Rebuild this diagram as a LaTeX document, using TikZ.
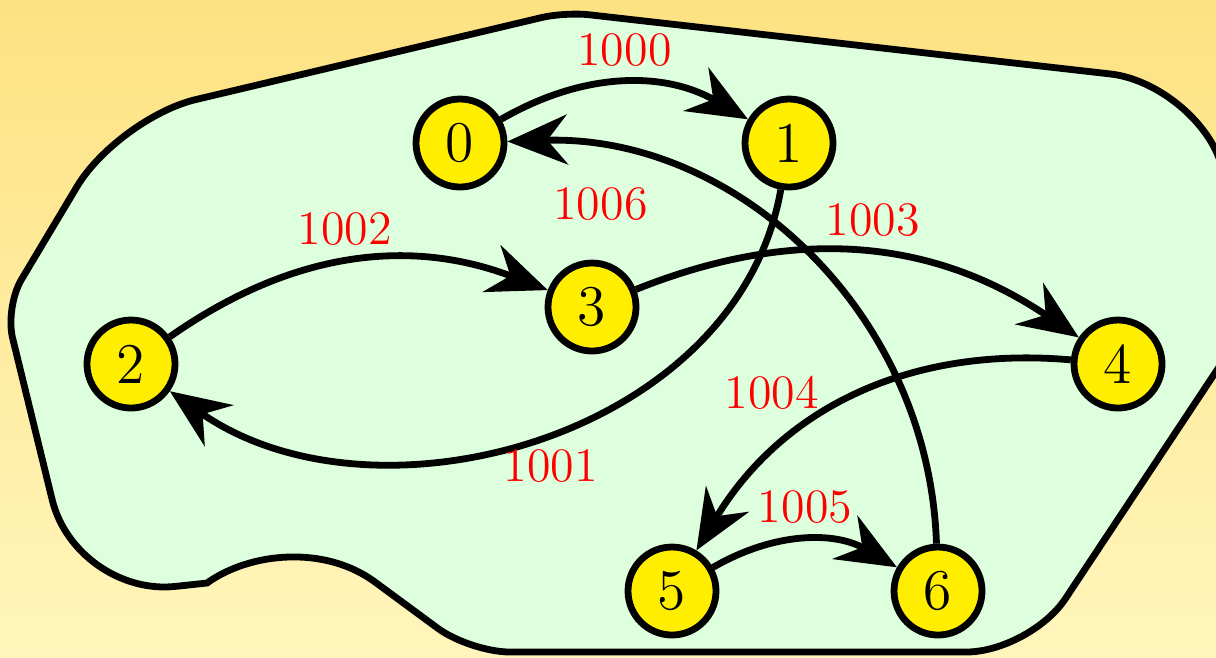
\documentclass[tikz,border=0pt]{standalone}
\usepackage{tikz}
\usetikzlibrary{arrows.meta, positioning, shapes.geometric}

\definecolor{bgtop}{RGB}{253,226,130}
\definecolor{bgbottom}{RGB}{255,245,188}
\definecolor{blobgreen}{RGB}{222,255,222}
\definecolor{nodeyellow}{RGB}{255,238,0}

\begin{document}
\begin{tikzpicture}[
	x=0.25pt, y=-0.25pt,
	vertex/.style = {circle, draw, line width=1.7pt, fill=nodeyellow, minimum size=22pt, inner sep=0pt, font=\Large},
	arrow/.style = {-{Stealth[length=15pt, width=12.5pt, inset=5pt]}, line width=1.7pt},
	weight/.style = {text=red, font=\large},
	blob/.style = {draw, line width=1.7pt, fill=blobgreen}
]

\useasboundingbox (0,0) rectangle (1216,657);
\clip (0,0) rectangle (1216,657);
\fill[top color=bgtop, bottom color=bgbottom] (0,0) rectangle (1216,657);

% the region
\draw[blob] (700,652)
	[rounded corners=16pt] -- (1030,652)
	[rounded corners=20pt] -- (1270,290)
	[rounded corners=20pt] -- (1190,83)
	[rounded corners=6pt] -- (565,12)
	[rounded corners=20pt] -- (118,118)
	[rounded corners=8pt] -- (5,307)
	[rounded corners=25pt] -- (76,597)
	[sharp corners] -- (207,583)
	.. controls (250,552) and (325,545) .. (375,582)
	[rounded corners=10pt] -- (470,652)
	[sharp corners] -- cycle;

\node[vertex] (0) at (460,143) {0};
\node[vertex] (1) at (789,143) {1};
\node[vertex] (2) at (131,364) {2};
\node[vertex] (3) at (592,307) {3};
\node[vertex] (4) at (1118,364) {4};
\node[vertex] (5) at (672,591) {5};
\node[vertex] (6) at (938,591) {6};

\draw[arrow] (0) to[bend left=30] node[weight, above] {1000} (1);
\draw[arrow] (1) to[out=-100, in=-35] node[weight, below, pos=0.48] {1001} (2);
\draw[arrow] (2) to[bend left=28] node[weight, above, pos=0.48] {1002} (3);
\draw[arrow] (3) to[bend left=28] node[weight, above, pos=0.52] {1003} (4);
\draw[arrow] (4) to[bend right=32] node[weight, above left, pos=0.6, xshift=4.5pt, yshift=-2pt] {1004} (5);
\draw[arrow] (5) to[bend left=30] node[weight, above] {1005} (6);
\draw[arrow] (6) to[bend right=45] node[weight, below left, pos=0.76, yshift=-1pt] {1006} (0);

\end{tikzpicture}
\end{document}
